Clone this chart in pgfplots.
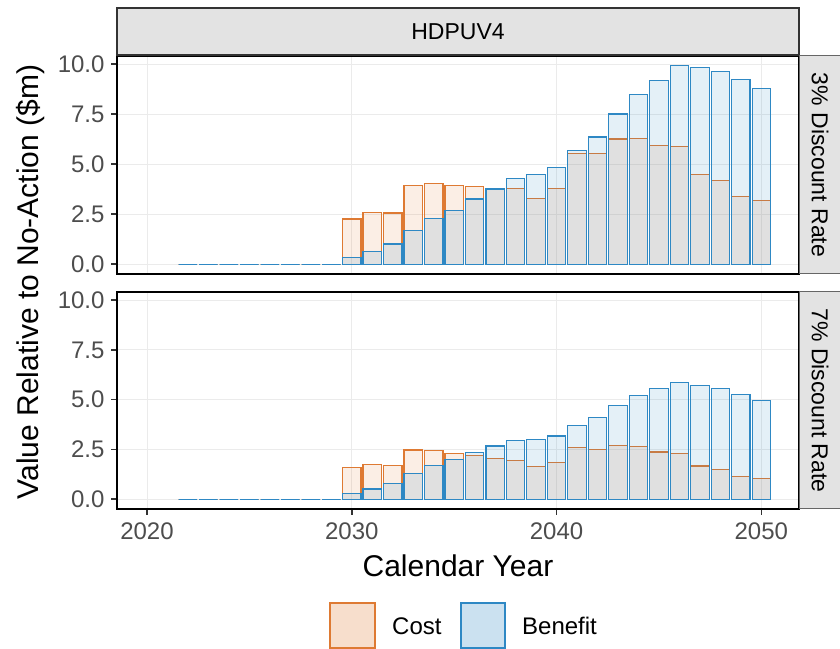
\documentclass[border=0pt]{standalone}
\usepackage{fontspec}
\setmainfont{Liberation Sans}
\usepackage{pgfplots}
\pgfplotsset{compat=1.18}
\usepackage{pgfplotstable}

\definecolor{costc}{RGB}{222,122,51}
\definecolor{benc}{RGB}{46,136,196}
\definecolor{stripc}{RGB}{227,227,227}
\definecolor{tickc}{RGB}{77,77,77}
\definecolor{gridc}{RGB}{235,235,235}

\pgfplotstableread{
year cost benefit
2022 0 0
2023 0 0
2024 0 0
2025 0 0
2026 0 0
2027 0 0
2028 0 0
2029 0 0
2030 2.26 0.32
2031 2.57 0.63
2032 2.56 1.01
2033 3.92 1.68
2034 4.02 2.28
2035 3.92 2.69
2036 3.89 3.26
2037 3.74 3.76
2038 3.77 4.30
2039 3.27 4.47
2040 3.80 4.82
2041 5.53 5.68
2042 5.53 6.36
2043 6.26 7.51
2044 6.28 8.50
2045 5.95 9.20
2046 5.88 9.92
2047 4.49 9.82
2048 4.19 9.62
2049 3.37 9.22
2050 3.17 8.77
}\threepct

\pgfplotstableread{
year cost benefit
2022 0 0
2023 0 0
2024 0 0
2025 0 0
2026 0 0
2027 0 0
2028 0 0
2029 0 0
2030 1.59 0.28
2031 1.76 0.51
2032 1.69 0.80
2033 2.47 1.29
2034 2.44 1.71
2035 2.29 1.99
2036 2.21 2.34
2037 2.04 2.67
2038 1.96 2.95
2039 1.64 3.00
2040 1.84 3.18
2041 2.59 3.70
2042 2.49 4.10
2043 2.70 4.71
2044 2.64 5.22
2045 2.37 5.56
2046 2.29 5.87
2047 1.67 5.72
2048 1.49 5.56
2049 1.16 5.26
2050 1.04 4.94
}\sevenpct

\pgfplotsset{
  panel/.style={
    scale only axis, width=682bp,
    xmin=2018.535, xmax=2051.84, ymin=-0.49, ymax=10.41,
    axis line style={black, line width=1.4bp},
    grid=major, major grid style={gridc, line width=0.9bp},
    xtick={2020,2030,2040,2050},
    ytick={0,2.5,5,7.5,10},
    yticklabels={0.0,2.5,5.0,7.5,10.0},
    tick align=outside, major tick length=6bp,
    tick style={black!80, line width=1.6bp},
    xtick pos=bottom, ytick pos=left,
    ticklabel style={font=\fontsize{24bp}{28bp}\selectfont, text=tickc},
    yticklabel style={xshift=-3bp},
    xticklabel style={yshift=-4bp},
    bar width=0.9,
  },
  costbar/.style={ybar, bar shift=0pt, draw=costc, fill=costc, fill opacity=0.13, line width=1.2bp},
  benbar/.style={ybar, bar shift=0pt, draw=benc, fill=benc, fill opacity=0.13, line width=1.2bp},
}

\begin{document}
\begin{tikzpicture}[x=1bp,y=1bp]
\path[use as bounding box] (0,0) rectangle (840,649);

% top panel
\begin{axis}[panel, height=218bp, at={(117bp,375bp)}, anchor=south west,
  xticklabels={}, xtick style={draw=none}]
\addplot[costbar] table[x=year,y=cost]{\threepct};
\addplot[benbar] table[x=year,y=benefit]{\threepct};
\end{axis}

% bottom panel
\begin{axis}[panel, height=217bp, at={(117bp,140bp)}, anchor=south west,
  xticklabels={2020,2030,2040,2050}]
\addplot[costbar] table[x=year,y=cost]{\sevenpct};
\addplot[benbar] table[x=year,y=benefit]{\sevenpct};
\end{axis}

% strips
\draw[fill=stripc, draw=black!80, line width=1.2bp] (117,594) rectangle (799,641);
\node[font=\fontsize{23bp}{27bp}\selectfont] at (458,617.5) {HDPUV4};
\draw[fill=stripc, draw=black!60, line width=1bp] (799,375) rectangle (841,593);
\draw[fill=stripc, draw=black!60, line width=1bp] (799,140) rectangle (841,357);
\node[rotate=-90, font=\fontsize{23bp}{27bp}\selectfont] at (820,484) {3\% Discount Rate};
\node[rotate=-90, font=\fontsize{23bp}{27bp}\selectfont] at (820,248.5) {7\% Discount Rate};

% axis titles
\node[anchor=base, font=\fontsize{30bp}{36bp}\selectfont] at (458,72.3) {Calendar Year};
\node[rotate=90, font=\fontsize{30bp}{36bp}\selectfont] at (31,367) {Value Relative to No-Action (\$m)};

% legend
\draw[costc, fill=costc, fill opacity=0.25, line width=1.2bp] (330,1) rectangle (375,46);
\draw[benc, fill=benc, fill opacity=0.25, line width=1.2bp] (461,1) rectangle (505,46);
\node[anchor=base west, inner sep=0pt, font=\fontsize{24bp}{28bp}\selectfont] at (392,14) {Cost};
\node[anchor=base west, inner sep=0pt, font=\fontsize{24bp}{28bp}\selectfont] at (522,14) {Benefit};
\end{tikzpicture}
\end{document}
